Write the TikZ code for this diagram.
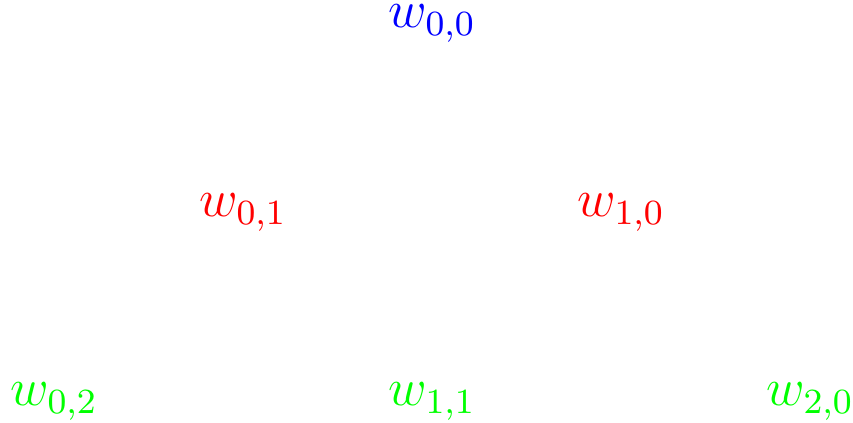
\documentclass[tikz,border=0pt]{standalone}
\usepackage{amsmath}
\usetikzlibrary{positioning}

\begin{document}
\begin{tikzpicture}[
    node distance=1.5cm and 1.5cm,
    wlabel/.style={inner sep=0pt, font=\large},
    top/.style={wlabel, text=blue},
    mid/.style={wlabel, text=red},
    bot/.style={wlabel, text=green},
  ]
  \useasboundingbox (-3.43,0.19) rectangle (3.34,-3.167);
  \node[top] (w00) at (0,0) {$w_{0,0}$};
  \node[mid] (w01) at (-1.5,-1.5) {$w_{0,1}$};
  \node[mid] (w10) at (1.5,-1.5) {$w_{1,0}$};
  \node[bot] (w02) at (-3,-3) {$w_{0,2}$};
  \node[bot] (w11) at (0,-3) {$w_{1,1}$};
  \node[bot] (w20) at (3,-3) {$w_{2,0}$};
\end{tikzpicture}
\end{document}
